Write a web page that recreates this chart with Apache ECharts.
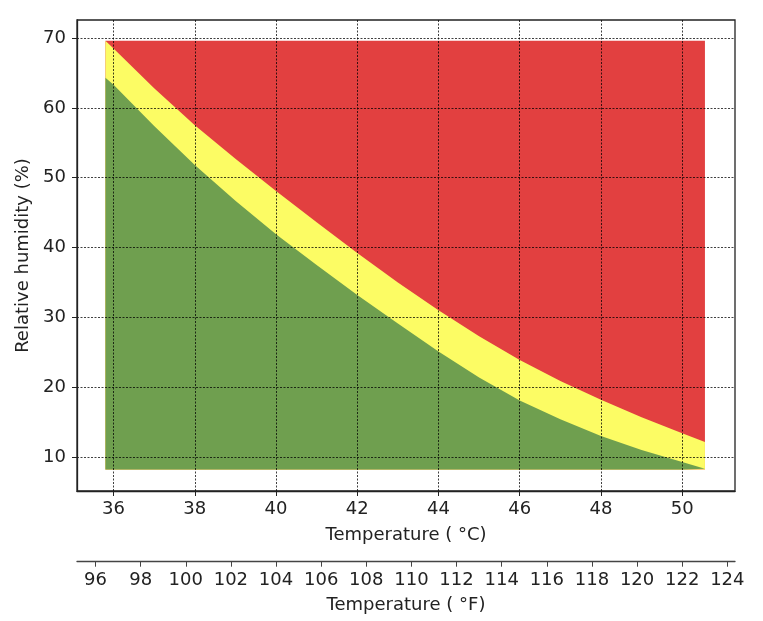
<!DOCTYPE html>
<html>
<head>
    <meta charset="utf-8">
    <title>Heat risk chart</title>
    <script src="https://cdn.jsdelivr.net/npm/echarts@6/dist/echarts.min.js"></script>
    <style type="text/css">
        html, body {margin: 0; padding: 0; background-color: #ffffff;}
    </style>
</head>
<body>
<div id="container" style="width: 763px;height:621px;"></div>

<script type="text/javascript">
    // temperatures (°C) where the zone boundaries were read
    var tempC = [35.8, 36, 37, 38, 39, 40, 41, 42, 43, 44, 45, 46, 47, 48, 49, 50, 50.56];
    // top of green zone (relative humidity %)
    var greenTop = [64.3, 63.3, 57.4, 51.8, 46.7, 41.9, 37.5, 33.2, 29.1, 25.1, 21.4, 18.1, 15.4, 13.0, 11.0, 9.3, 8.3];
    // bottom of red zone (relative humidity %)
    var redBottom = [69.6, 68.5, 62.8, 57.5, 52.7, 48.1, 43.6, 39.2, 35.0, 31.0, 27.3, 23.9, 20.9, 18.2, 15.7, 13.4, 12.15];
    var humidityFloor = 8.2;
    var humidityCeil = 69.6;

    var ticksC = [36, 38, 40, 42, 44, 46, 48, 50];
    var ticksF = [96, 98, 100, 102, 104, 106, 108, 110, 112, 114, 116, 118, 120, 122, 124];
    var ticksRH = [10, 20, 30, 40, 50, 60, 70];

    var minC = 35.1, maxC = 51.3;
    function toF(c) { return c * 9 / 5 + 32; }

    function pairs(ys) {
        var out = [];
        for (var i = 0; i < tempC.length; i++) {
            out.push([tempC[i], ys[i]]);
        }
        return out;
    }
    var ceilLine = tempC.map(function () { return humidityCeil; });

    var font = 'DejaVu Sans';
    var gridLine = {show: true, lineStyle: {color: 'rgba(0,0,0,0.75)', type: [2, 1.5], width: 1}};

    var myChart = echarts.init(document.getElementById('container'));

    // each zone is filled from the humidity floor up to its upper edge,
    // drawn red first, then yellow, then green on top
    function zone(name, ys, color) {
        return {
            name: name,
            type: 'line',
            data: pairs(ys),
            symbol: 'none',
            smooth: false,
            lineStyle: {width: 0},
            areaStyle: {color: color, opacity: 1, origin: humidityFloor},
            silent: true,
            z: 2
        };
    }

    var option = {
        backgroundColor: '#ffffff',
        animation: false,
        textStyle: {fontFamily: font},
        grid: [{
            left: 77, right: 28, top: 20, bottom: 130,
            show: true, borderColor: '#222', borderWidth: 1.3, backgroundColor: 'transparent'
        }, {
            left: 77, right: 28, top: 520, height: 41.7,
            show: false
        }],
        xAxis: [{
            gridIndex: 0,
            type: 'value',
            min: minC, max: maxC,
            z: 10,
            name: 'Temperature ( °C)',
            nameLocation: 'middle',
            nameGap: 35,
            nameTextStyle: {fontSize: 18, color: '#222', fontFamily: font},
            axisLine: {show: true, lineStyle: {color: '#222', width: 1.3}},
            axisTick: {show: true, length: 5, customValues: ticksC, lineStyle: {color: '#222'}},
            axisLabel: {customValues: ticksC, fontSize: 18, color: '#222', margin: 9, fontFamily: font},
            splitLine: gridLine
        }, {
            gridIndex: 1,
            type: 'value',
            position: 'bottom',
            min: toF(minC), max: toF(maxC),
            name: 'Temperature ( °F)',
            nameLocation: 'middle',
            nameGap: 35,
            nameTextStyle: {fontSize: 18, color: '#222', fontFamily: font},
            axisLine: {show: true, onZero: false, lineStyle: {color: '#444', width: 1.3}},
            axisTick: {show: true, length: 5, customValues: ticksF, lineStyle: {color: '#444'}},
            axisLabel: {customValues: ticksF, fontSize: 18, color: '#222', margin: 10, fontFamily: font},
            splitLine: {show: false}
        }],
        yAxis: [{
            gridIndex: 0,
            type: 'value',
            min: 5.13, max: 72.58,
            z: 10,
            name: 'Relative humidity (%)',
            nameLocation: 'middle',
            nameGap: 37,
            nameTextStyle: {fontSize: 18, color: '#222', fontFamily: font},
            axisLine: {show: true, lineStyle: {color: '#222', width: 1.3}},
            axisTick: {show: true, length: 5, customValues: ticksRH, lineStyle: {color: '#222'}},
            axisLabel: {customValues: ticksRH, fontSize: 18, color: '#222', margin: 11, fontFamily: font},
            splitLine: gridLine
        }, {
            gridIndex: 1,
            type: 'value',
            show: false
        }],
        series: [
            zone('danger', ceilLine, '#e24040'),
            zone('caution', redBottom, '#fcfc64'),
            zone('safe', greenTop, '#6f9f4f')
        ]
    };

    myChart.setOption(option);
</script>
</body>
</html>
